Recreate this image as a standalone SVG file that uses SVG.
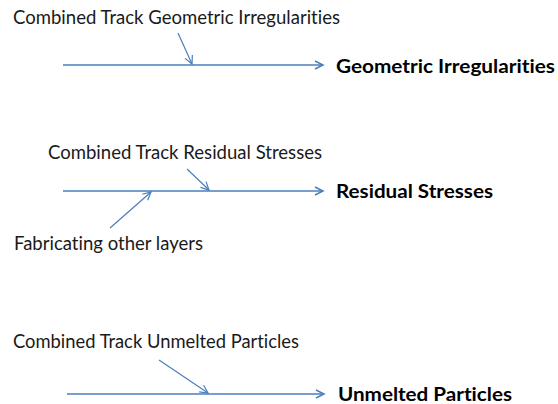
<svg xmlns="http://www.w3.org/2000/svg" width="558" height="404" viewBox="0 0 558 404">
<style>
.lbl{font-family:Lato,"Open Sans","Liberation Sans",sans-serif;font-size:18.5px;fill:#1a1a1a;font-variant-ligatures:none}
.out{font-family:Lato,"Open Sans","Liberation Sans",sans-serif;font-size:19px;font-weight:bold;fill:#000;font-variant-ligatures:none}
.ln{stroke:#4A7EBB;stroke-width:1.6;fill:none}
.dg{stroke:#4A7EBB;stroke-width:1.2;fill:none}
</style>
<defs>
<marker id="ah" markerUnits="userSpaceOnUse" markerWidth="12" markerHeight="12" refX="9" refY="5" orient="auto">
<path d="M1,1 L9,5 L1,9" fill="none" stroke="#4A7EBB" stroke-width="1.5"/>
</marker>
<marker id="ahs" markerUnits="userSpaceOnUse" markerWidth="12" markerHeight="12" refX="9" refY="5" orient="auto">
<path d="M1,1 L9,5 L1,9" fill="none" stroke="#4A7EBB" stroke-width="1.2"/>
</marker>
</defs>
<g id="connectors">
<line class="ln" x1="63" y1="65" x2="323" y2="65" marker-end="url(#ah)"/>
<line class="dg" x1="178" y1="33" x2="192" y2="64" marker-end="url(#ahs)"/>
<line class="ln" x1="63" y1="191" x2="323" y2="191" marker-end="url(#ah)"/>
<line class="dg" x1="187" y1="169" x2="209" y2="190" marker-end="url(#ahs)"/>
<line class="dg" x1="110" y1="228" x2="151" y2="192" marker-end="url(#ahs)"/>
<line class="ln" x1="67" y1="394" x2="324" y2="394" marker-end="url(#ah)"/>
<line class="dg" x1="159" y1="360" x2="208" y2="393" marker-end="url(#ahs)"/>
</g>
<g id="n-combined-geo"><text class="lbl" x="13" y="24" textLength="327" lengthAdjust="spacingAndGlyphs">Combined Track Geometric Irregularities</text></g>
<g id="n-geo"><text class="out" x="336" y="73" textLength="219" lengthAdjust="spacingAndGlyphs">Geometric Irregularities</text></g>
<g id="n-combined-res"><text class="lbl" x="48" y="159" textLength="274" lengthAdjust="spacingAndGlyphs">Combined Track Residual Stresses</text></g>
<g id="n-res"><text class="out" x="336" y="198" textLength="157" lengthAdjust="spacingAndGlyphs">Residual Stresses</text></g>
<g id="n-fab"><text class="lbl" x="14" y="250" textLength="189" lengthAdjust="spacingAndGlyphs">Fabricating other layers</text></g>
<g id="n-combined-unm"><text class="lbl" x="13" y="348" textLength="286" lengthAdjust="spacingAndGlyphs">Combined Track Unmelted Particles</text></g>
<g id="n-unm"><text class="out" x="338" y="401" textLength="174" lengthAdjust="spacingAndGlyphs">Unmelted Particles</text></g>
</svg>
